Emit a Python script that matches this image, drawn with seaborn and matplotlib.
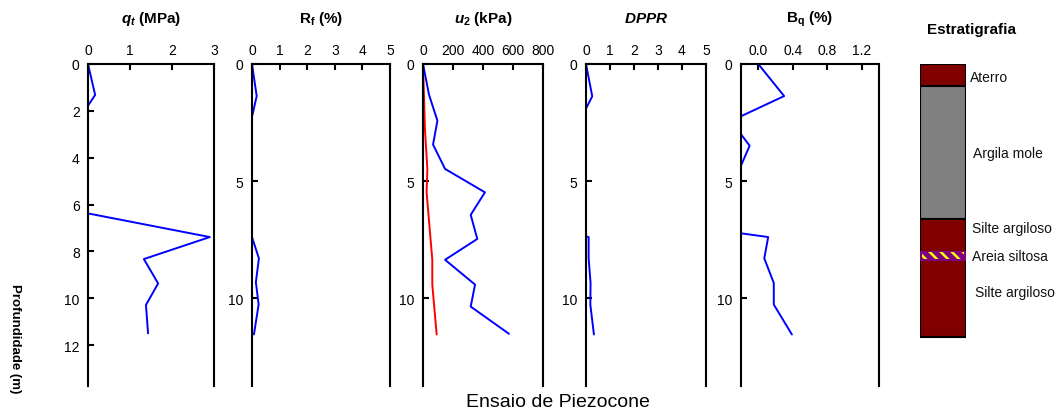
import matplotlib
matplotlib.use("Agg")
import matplotlib.pyplot as plt
import seaborn as sns
import numpy as np

# --- CPTu profile data (depth in m) ---
qt_depth = [0, 1.32, 1.78, 6.38, 7.39, 8.33, 9.37, 10.29, 11.5]
qt_mpa = [0, 0.17, 0, 0, 2.90, 1.33, 1.67, 1.38, 1.43]

rf_depth = [0, 1.37, 2.26, 7.39, 8.30, 9.32, 10.27, 11.55]
rf_pct = [0, 0.17, 0, 0, 0.25, 0.14, 0.24, 0.07]

u2_depth = [0, 1.31, 2.42, 3.44, 4.48, 5.48, 6.44, 7.47, 8.36, 9.42, 10.36, 11.52]
u2_kpa = [0, 40, 96, 67, 147, 413, 318, 362, 147, 347, 318, 573]

u0_depth = [0, 2.8, 4.48, 5.48, 8.36, 9.42, 11.55]
u0_kpa = [0, 13, 29, 24, 62, 62, 91]

dppr_depth = [0, 1.38, 1.9, 7.36, 7.39, 8.3, 9.35, 10.27, 11.55]
dppr = [0, 0.26, 0, 0, 0.11, 0.11, 0.19, 0.18, 0.33]

bq_depth = [0, 1.37, 2.23, 3.0, 3.49, 4.34, 7.23, 7.39, 8.3, 9.35, 10.27, 11.55]
bq = [0, 0.30, -0.2, -0.2, -0.10, -0.2, -0.2, 0.115, 0.07, 0.18, 0.18, 0.39]

# --- stratigraphy ---
layer_top = [0.0, 0.93, 6.62]
layer_bottom = [0.93, 6.62, 11.67]
layer_color = ["#800000", "#808080", "#800000"]
sand_top, sand_bottom = 7.97, 8.40

strat_labels = ["Aterro", "Argila mole", "Silte argiloso", "Areia siltosa", "Silte argiloso"]
strat_label_depth = [0.54, 3.8, 7.0, 8.2, 9.72]
strat_label_x = [1.09, 1.15, 1.13, 1.13, 1.19]

sns.set_theme(style="white")
plt.rcParams["font.family"] = ["Liberation Sans", "DejaVu Sans"]
plt.rcParams["mathtext.fontset"] = "custom"
plt.rcParams["mathtext.rm"] = "Liberation Sans:bold"
plt.rcParams["mathtext.bf"] = "Liberation Sans:bold"
plt.rcParams["mathtext.it"] = "Liberation Sans:italic:bold"
plt.rcParams["hatch.color"] = "#FFFF00"
plt.rcParams["hatch.linewidth"] = 1.8

W, H = 1057, 414
TOP, BOT = 65, 387
fig = plt.figure(figsize=(W / 100, H / 100), dpi=100)


def rect(l, r):
    return [l / W, 1 - BOT / H, (r - l) / W, (BOT - TOP) / H]


DMAX = 13.75


def style_axes(ax, xlim, xticks, xticklabels, yticks):
    ax.set_xlim(*xlim)
    ax.set_ylim(DMAX, 0)
    ax.xaxis.tick_top()
    ax.set_xticks(xticks)
    ax.set_xticklabels(xticklabels)
    ax.set_yticks(yticks)
    ax.set_xlabel("")
    ax.set_ylabel("")
    for side in ["left", "top", "right"]:
        ax.spines[side].set_visible(True)
        ax.spines[side].set_color("black")
        ax.spines[side].set_linewidth(1.5)
    ax.spines["bottom"].set_visible(False)
    ax.tick_params(axis="x", direction="in", length=4, width=1.5, top=True,
                   bottom=False, labeltop=True, labelbottom=False,
                   labelsize=10, pad=5, colors="black")
    ax.tick_params(axis="y", direction="in", length=4, width=1.5, left=True,
                   right=False, labelsize=10, pad=6, colors="black")
    ax.grid(False)


def profile(ax, x, y, color="blue"):
    sns.lineplot(x=x, y=y, sort=False, estimator=None, color=color,
                 linewidth=1.4, ax=ax)


panels = [(88, 214), (252, 390), (423, 543), (586, 706), (741, 879)]
axes = [fig.add_axes(rect(l, r)) for l, r in panels]

profile(axes[0], qt_mpa, qt_depth)
style_axes(axes[0], (0, 3), [0, 1, 2, 3], ["0", "1", "2", "3"], [0, 2, 4, 6, 8, 10, 12])

profile(axes[1], rf_pct, rf_depth)
style_axes(axes[1], (0, 5), range(6), [str(v) for v in range(6)], [0, 5, 10])

profile(axes[2], u0_kpa, u0_depth, color="red")
profile(axes[2], u2_kpa, u2_depth)
style_axes(axes[2], (0, 800), [0, 200, 400, 600, 800],
           ["0", "200", "400", "600", "800"], [0, 5, 10])

profile(axes[3], dppr, dppr_depth)
style_axes(axes[3], (0, 5), range(6), [str(v) for v in range(6)], [0, 5, 10])

profile(axes[4], bq, bq_depth)
style_axes(axes[4], (-0.2, 1.4), [0.0, 0.4, 0.8, 1.2], ["0.0", "0.4", "0.8", "1.2"], [0, 5, 10])

# Panel titles
titles = [r"$q_t$ (MPa)", r"R$_\mathrm{f}$ (%)", r"$u_2$ (kPa)", r"$DPPR$", r"B$_\mathrm{q}$ (%)"]
for (l, r), t in zip(panels, titles):
    fig.text((l + r) / 2 / W, 1 - 19 / H, t, ha="center", va="center",
             fontsize=11, fontweight="bold", color="black")

# Stratigraphic column
sax = fig.add_axes(rect(920, 966))
sax.bar(x=[0.5] * len(layer_top), height=np.subtract(layer_bottom, layer_top),
        bottom=layer_top, width=1.0, color=layer_color, edgecolor="black",
        linewidth=1.5)
# silty sand lens: purple band with yellow diagonal hatching inside
sax.bar(x=0.5, height=sand_bottom - sand_top, bottom=sand_top, width=1.0,
        color="#800080", linewidth=0, zorder=3)
inset = 0.07
sax.bar(x=0.5, height=sand_bottom - sand_top - 2 * inset, bottom=sand_top + inset,
        width=0.9, facecolor="none", edgecolor="#FFFF00", linewidth=0,
        hatch="\\\\\\", zorder=4)
sax.set_xlim(0, 1)
sax.set_ylim(DMAX, 0)
sax.axis("off")
for name, d, x in zip(strat_labels, strat_label_depth, strat_label_x):
    sax.text(x, d, name, ha="left", va="center", fontsize=10, color="#111111",
             clip_on=False)
fig.text(972 / W, 1 - 30 / H, "Estratigrafia", ha="center", va="center",
         fontsize=11, fontweight="bold", color="black")

fig.text(15 / W, 1 - 339 / H, "Profundidade (m)", rotation=-90, ha="center",
         va="center", fontsize=9.5, fontweight="bold", color="black")
fig.text(558 / W, 1 - 403 / H, "Ensaio de Piezocone", ha="center", va="center",
         fontsize=14, color="black")

fig.savefig("out.png", dpi=100)
